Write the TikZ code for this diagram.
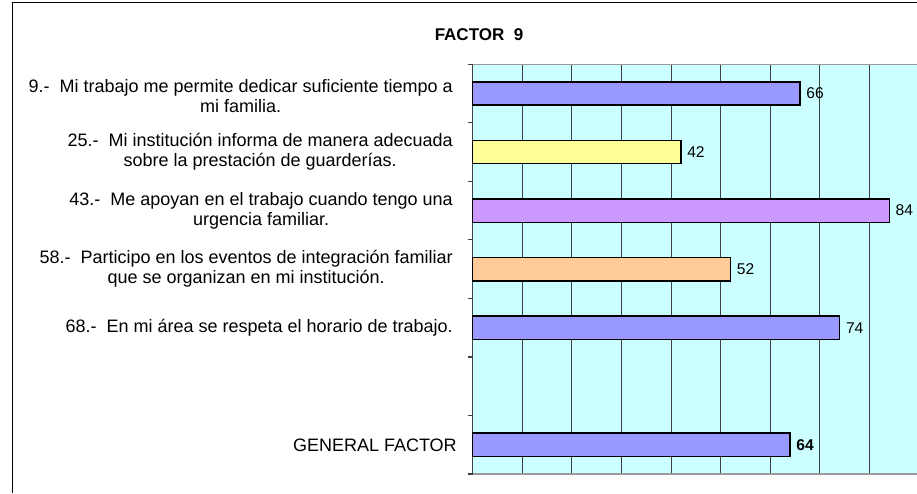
\documentclass[tikz,border=0pt]{standalone}
\usepackage{fontspec}
\setmainfont{Liberation Sans}
\definecolor{plotbg}{HTML}{CCFFFF}
\definecolor{barblue}{HTML}{9999FF}
\definecolor{baryellow}{HTML}{FFFF99}
\definecolor{barlilac}{HTML}{CC99FF}
\definecolor{barorange}{HTML}{FFCC99}
\definecolor{gridc}{HTML}{404040}
\definecolor{borderc}{HTML}{999999}
\begin{document}
\begin{tikzpicture}[x=0.75pt,y=-0.75pt,
  lab/.style={font=\fontsize{13.5}{15}\selectfont, align=center, anchor=east, inner sep=0pt},
  val/.style={font=\fontsize{11.7}{14}\selectfont, anchor=west, inner sep=0pt},
  barbox/.style={draw=black, line width=1.1pt},
  gridline/.style={draw=gridc, line width=0.75pt}]
\useasboundingbox (0,0) rectangle (917,493);
\fill[white] (0,0) rectangle (917,493);
% outer frame
\draw[line width=1.1pt] (12.7,493) -- (12.7,2.5) -- (917,2.5);
% title
\node[font=\bfseries\fontsize{12.75}{15}\selectfont, inner sep=0pt] (title) at (479,35) {FACTOR\ \ 9};
% plot area
\fill[plotbg] (472.7,64.3) rectangle (917,474);
\foreach \k in {1,...,8}
  \draw[gridline] ({472.7+49.6*\k},64.3) -- ({472.7+49.6*\k},474);
\draw[borderc, line width=1.1pt] (472.7,64.3) -- (917,64.3);
\draw[borderc, line width=1.1pt] (472.7,474) -- (917,474);
\draw[gridc, line width=1.1pt] (472.7,64.3) -- (472.7,474);
\foreach \i in {0,...,7}
  \draw[gridc, line width=0.9pt] (467.5,{64.3+58.53*\i}) -- (472.7,{64.3+58.53*\i});
% bars
\foreach \v/\c/\i in {66/barblue/1, 42/baryellow/2, 84/barlilac/3, 52/barorange/4, 74/barblue/5}{
  \filldraw[barbox, fill=\c] (472.7,{64.3+58.53*(\i-0.5)-11.65}) rectangle ({472.7+4.96*\v},{64.3+58.53*(\i-0.5)+11.65});
  \node[val] (v\i) at ({472.7+4.96*\v+6},{64.3+58.53*(\i-0.5)}) {\v};
}
\filldraw[barbox, fill=barblue] (472.7,{64.3+58.53*6.5-11.65}) rectangle ({472.7+4.96*64},{64.3+58.53*6.5+11.65});
\node[val, font=\bfseries\fontsize{11.7}{14}\selectfont] (vg) at ({472.7+4.96*64+6},{64.3+58.53*6.5}) {64};
% category labels
\node[lab] (l1) at (453,95.8) {9.-\ \ Mi trabajo me permite dedicar suficiente tiempo a\\mi familia.};
\node[lab] (l2) at (453,151.3) {25.-\ \ Mi institución informa de manera adecuada\\sobre la prestación de guarderías.};
\node[lab] (l3) at (453,211.3) {43.-\ \ Me apoyan en el trabajo cuando tengo una\\urgencia familiar.};
\node[lab] (l4) at (453,268.3) {58.-\ \ Participo en los eventos de integración familiar\\que se organizan en mi institución.};
\node[lab] (l5) at (453,327.7) {68.-\ \ En mi área se respeta el horario de trabajo.};
\node[lab] (l7) at (457,445) {GENERAL FACTOR};
\end{tikzpicture}
\end{document}
